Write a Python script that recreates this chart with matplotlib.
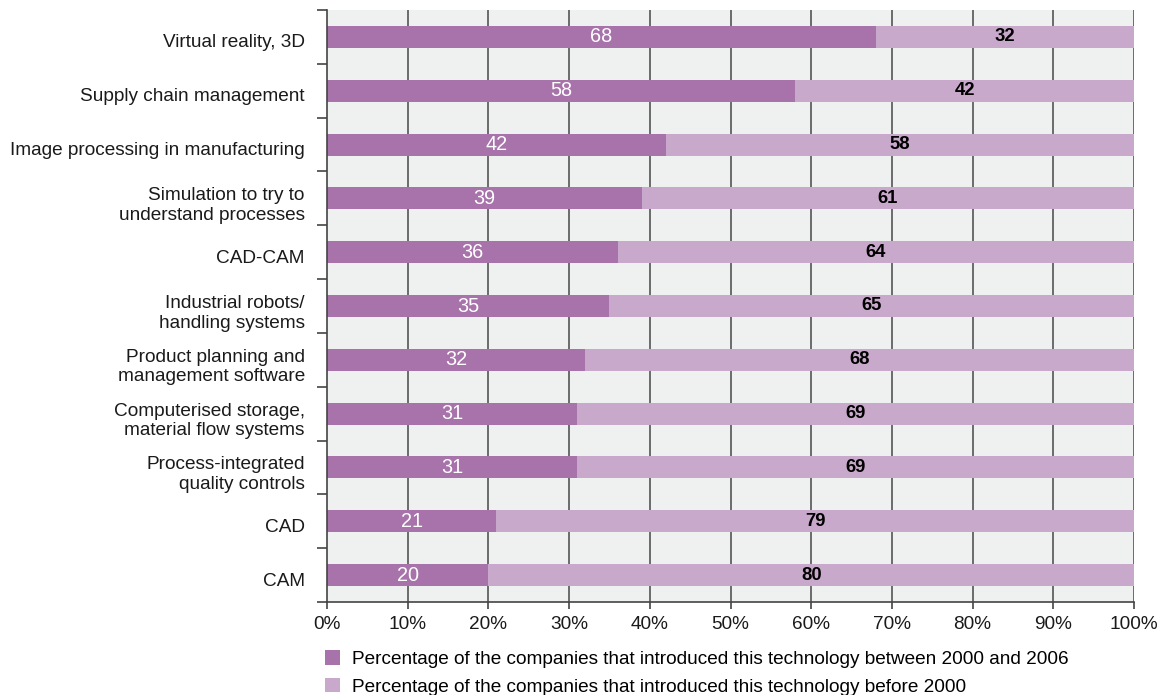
import matplotlib
matplotlib.use("Agg")
import matplotlib.pyplot as plt
from matplotlib.patches import Patch
from matplotlib.transforms import ScaledTranslation
import numpy as np

plt.rcParams['font.family'] = ['Liberation Sans', 'DejaVu Sans']

categories = [
    "Virtual reality, 3D",
    "Supply chain management",
    "Image processing in manufacturing",
    "Simulation to try to\nunderstand processes",
    "CAD-CAM",
    "Industrial robots/\nhandling systems",
    "Product planning and\nmanagement software",
    "Computerised storage,\nmaterial flow systems",
    "Process-integrated\nquality controls",
    "CAD",
    "CAM",
]
recent = [68, 58, 42, 39, 36, 35, 32, 31, 31, 21, 20]
before = [32, 42, 58, 61, 64, 65, 68, 69, 69, 79, 80]
legend_labels = [
    "Percentage of the companies that introduced this technology between 2000 and 2006",
    "Percentage of the companies that introduced this technology before 2000",
]
x_ticks = list(range(0, 101, 10))

dark = "#A873AA"
light = "#C9A9CB"
bg = "#EFF0F0"
axis_col = "#444444"
text_col = "#1a1a1a"
fs = 13.7

fig = plt.figure(figsize=(11.7, 6.95), dpi=100)
ax = fig.add_axes([327 / 1170, 1 - 602 / 695, (1134 - 327) / 1170, (602 - 10) / 695])
ax.set_facecolor(bg)

n = len(categories)
y = np.arange(n)
h = 0.41
ax.barh(y, recent, height=h, color=dark, zorder=3)
ax.barh(y, before, left=recent, height=h, color=light, zorder=3)

for yi, r, b in zip(y, recent, before):
    ax.text(r / 2, yi, str(r), ha="center", va="center", color="white",
            fontsize=14.3, zorder=4)
    ax.text(r + b / 2, yi, str(b), ha="center", va="center", color="black",
            fontsize=13.3, fontweight="bold", zorder=4)

ax.set_xlim(0, 100)
ax.set_ylim(n - 0.5, -0.5)
ax.set_xticks(x_ticks)
ax.set_xticklabels([f"{t}%" for t in x_ticks], fontsize=fs, color=text_col)
ax.tick_params(axis="x", length=5, width=1.2, color=axis_col, pad=5)

# category labels sit between boundary ticks
ax.set_yticks(np.arange(-0.5, n, 1.0))
ax.set_yticklabels([])
ax.set_yticks(y, minor=True)
ax.set_yticklabels(categories, minor=True, fontsize=fs, color=text_col,
                   linespacing=1.2)
ax.tick_params(axis="y", which="major", length=7, width=1.2, color=axis_col)
ax.tick_params(axis="y", which="minor", length=0, pad=16)
nudge = ScaledTranslation(0, -4 / 100, fig.dpi_scale_trans)
for lab in ax.get_yticklabels(minor=True):
    lab.set_transform(lab.get_transform() + nudge)

for xv in x_ticks[1:]:
    ax.axvline(xv, color="#555555", lw=1.2, zorder=1)

for s in ["top", "right"]:
    ax.spines[s].set_visible(False)
for s in ["left", "bottom"]:
    ax.spines[s].set_color(axis_col)
    ax.spines[s].set_linewidth(1.2)
    ax.spines[s].set_zorder(5)

handles = [Patch(facecolor=dark, edgecolor="none"), Patch(facecolor=light, edgecolor="none")]
fig.legend(handles, legend_labels, loc="upper left",
           bbox_to_anchor=(325 / 1170, 1 - 650 / 695), frameon=False,
           fontsize=fs, handlelength=0.8, handleheight=0.8, handletextpad=0.6,
           labelspacing=0.52, borderaxespad=0, borderpad=0)

fig.savefig("out.png", dpi=100)
